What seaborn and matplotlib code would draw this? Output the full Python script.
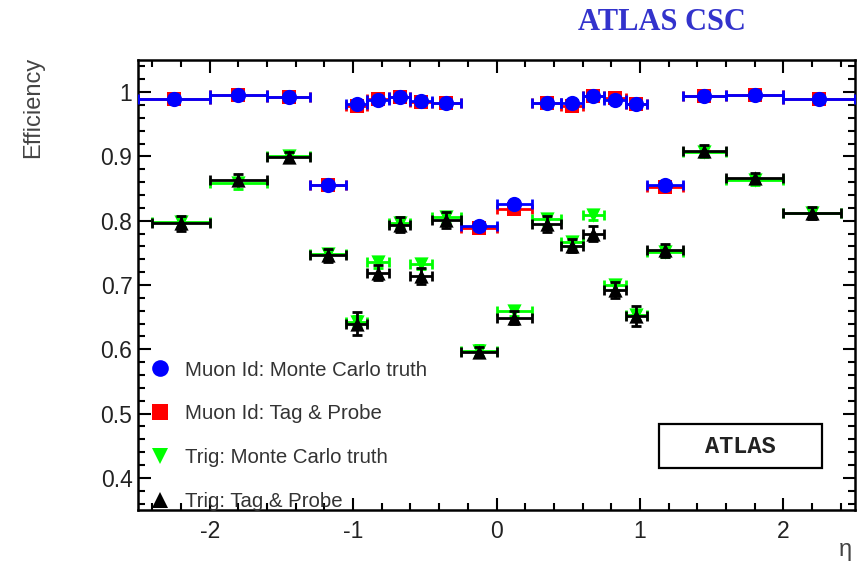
import numpy as np
import pandas as pd
import matplotlib
matplotlib.use("Agg")
import matplotlib.pyplot as plt
import seaborn as sns
from matplotlib.lines import Line2D
from matplotlib.patches import Rectangle
from matplotlib.ticker import MultipleLocator

# eta bin edges
muon_edges = [-2.5, -2.0, -1.6, -1.3, -1.05, -0.9, -0.75, -0.6, -0.45, -0.25, 0.0,
              0.25, 0.45, 0.6, 0.75, 0.9, 1.05, 1.3, 1.6, 2.0, 2.5]
trig_edges = [-2.4, -2.0, -1.6, -1.3, -1.05, -0.9, -0.75, -0.6, -0.45, -0.25, 0.0,
              0.25, 0.45, 0.6, 0.75, 0.9, 1.05, 1.3, 1.6, 2.0, 2.4]

# efficiencies per bin
muon_mc = [0.990, 0.995, 0.993, 0.856, 0.982, 0.988, 0.993, 0.986, 0.983, 0.791,
           0.826, 0.983, 0.983, 0.994, 0.988, 0.982, 0.855, 0.994, 0.995, 0.989]
muon_tp = [0.990, 0.995, 0.993, 0.855, 0.978, 0.990, 0.993, 0.984, 0.983, 0.788,
           0.818, 0.983, 0.978, 0.994, 0.991, 0.982, 0.853, 0.994, 0.995, 0.989]
trig_mc = [0.798, 0.858, 0.900, 0.748, 0.643, 0.735, 0.797, 0.733, 0.805, 0.598,
           0.659, 0.802, 0.767, 0.809, 0.700, 0.653, 0.752, 0.907, 0.863, 0.812]
trig_tp = [0.796, 0.864, 0.899, 0.746, 0.640, 0.719, 0.794, 0.714, 0.801, 0.596,
           0.649, 0.795, 0.761, 0.780, 0.692, 0.652, 0.754, 0.909, 0.867, 0.812]

# statistical uncertainties
muon_err = [0.004] * 20
trig_mc_err = [0.008] * 20
trig_tp_err = [0.012, 0.008, 0.008, 0.010, 0.018, 0.012, 0.012, 0.012, 0.012, 0.008,
               0.010, 0.012, 0.010, 0.012, 0.012, 0.016, 0.010, 0.008, 0.008, 0.010]

labels = ["Muon Id: Monte Carlo truth", "Muon Id: Tag & Probe",
          "Trig: Monte Carlo truth", "Trig: Tag & Probe"]
colors = ["#0000ff", "#ff0000", "#00ff00", "#000000"]
markers = ["o", "s", "v", "^"]
sizes = [120, 100, 105, 105]


def centers_halfwidths(edges):
    e = np.asarray(edges)
    return (e[1:] + e[:-1]) / 2, (e[1:] - e[:-1]) / 2


sns.set_style("ticks")
plt.rcParams["font.family"] = ["Liberation Sans", "DejaVu Sans"]

fig = plt.figure(figsize=(8.57, 5.66), dpi=100)
ax = fig.add_axes([138 / 857, 1 - 510 / 566, 717 / 857, 450 / 566])

mx, mxe = centers_halfwidths(muon_edges)
tx, txe = centers_halfwidths(trig_edges)

series = [
    (labels[0], mx, mxe, muon_mc, muon_err),
    (labels[1], mx, mxe, muon_tp, muon_err),
    (labels[2], tx, txe, trig_mc, trig_mc_err),
    (labels[3], tx, txe, trig_tp, trig_tp_err),
]
# drawing order: red under blue, green under black
draw_order = [1, 0, 2, 3]
z = 2
for i in draw_order:
    name, x, xe, y, ye = series[i]
    df = pd.DataFrame({"eta": x, "eff": y, "series": name})
    ax.errorbar(x, y, xerr=xe, yerr=ye, fmt="none", ecolor=colors[i],
                elinewidth=2.0, capsize=3.5, capthick=2.0, zorder=z)
    sns.scatterplot(data=df, x="eta", y="eff", color=colors[i], marker=markers[i],
                    s=sizes[i], linewidth=0, ax=ax, zorder=z + 0.5, legend=False)
    z += 1

ax.set_xlim(-2.5, 2.5)
ax.set_ylim(0.35, 1.05)
ax.xaxis.set_major_locator(MultipleLocator(1))
ax.xaxis.set_minor_locator(MultipleLocator(0.2))
ax.yaxis.set_major_locator(MultipleLocator(0.1))
ax.yaxis.set_minor_locator(MultipleLocator(0.02))
ax.set_yticks([0.4, 0.5, 0.6, 0.7, 0.8, 0.9, 1.0])
ax.set_yticklabels(["0.4", "0.5", "0.6", "0.7", "0.8", "0.9", "1"])
ax.set_xticks([-2, -1, 0, 1, 2])
ax.set_xticklabels(["-2", "-1", "0", "1", "2"])
ax.tick_params(which="both", direction="in", top=True, right=True, width=1.5,
               colors="black", labelcolor="#222222", labelsize=16.5)
ax.tick_params(axis="y", pad=4)
ax.tick_params(axis="x", pad=7)
ax.tick_params(which="major", length=9)
ax.tick_params(which="minor", length=5)
for sp in ax.spines.values():
    sp.set_linewidth(1.8)
    sp.set_color("black")
ax.set_xlabel("")
ax.set_ylabel("")

handles = [Line2D([], [], linestyle="none", marker=markers[i], color=colors[i],
                  markersize=12 if i != 1 else 11, markeredgewidth=0)
           for i in range(4)]
leg = ax.legend(handles, labels, loc="lower left", bbox_to_anchor=(0.0, -0.03),
                frameon=False, fontsize=14.7, handlelength=1.0, handletextpad=0.7,
                labelspacing=1.22, borderaxespad=0.2)
for t in leg.get_texts():
    t.set_color("#333333")

ax.add_patch(Rectangle((0.727, 0.093), 0.227, 0.098, transform=ax.transAxes,
                       fill=False, edgecolor="black", linewidth=1.6, zorder=6))
ax.text(0.84, 0.142, "ATLAS", transform=ax.transAxes, ha="center", va="center",
        family=["Liberation Mono", "DejaVu Sans Mono"], fontweight="bold",
        fontsize=17, color="#222222", zorder=7)

fig.text(33 / 857, 1 - 57 / 566, "Efficiency", rotation=90, ha="center", va="top",
         fontsize=17, color="#444444")
fig.text(845 / 857, 1 - 550 / 566, "η", ha="center", va="center",
         fontsize=17, color="#444444")
fig.text(662 / 857, 1 - 22 / 566, "ATLAS CSC", ha="center", va="center",
         family=["Liberation Serif", "DejaVu Serif"], fontweight="bold",
         fontsize=22, color="#3333cc")

fig.savefig("out.png", dpi=100, facecolor="white")
